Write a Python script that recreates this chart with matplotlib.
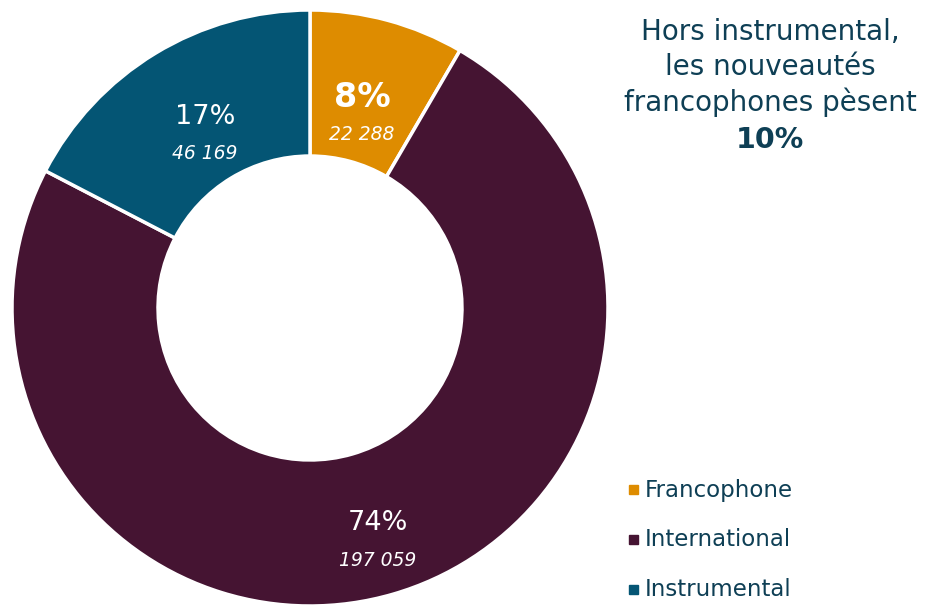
import numpy as np
import matplotlib.pyplot as plt

categories = ["Francophone", "International", "Instrumental"]
counts = [22288, 197059, 46169]
count_labels = ["22 288", "197 059", "46 169"]
colors = ["#DE8C00", "#451432", "#045574"]
text_color = "#0E3F55"

title_lines = ["Hors instrumental,", "les nouveautés", "francophones pèsent"]
title_value = "10%"

plt.rcParams['font.family'] = ['DejaVu Sans']

fig = plt.figure(figsize=(9.3, 6.05), dpi=100)

# donut axes: centre ~ (310, 308) px, radius ~298 px
ax = fig.add_axes([12 / 930, -1 / 605, 596 / 930, 596 / 605])
wedges, _ = ax.pie(counts, colors=colors, startangle=90, counterclock=False,
                   radius=1, wedgeprops=dict(width=0.49, edgecolor="white", linewidth=2.5))
ax.set_xlim(-1, 1)
ax.set_ylim(-1, 1)
ax.set_aspect("equal")
ax.axis("off")

total = sum(counts)
label_r = [0.67, 0.815, 0.68]
for i, w in enumerate(wedges):
    mid = np.deg2rad((w.theta1 + w.theta2) / 2)
    x = label_r[i] * np.cos(mid)
    y = label_r[i] * np.sin(mid)
    pct = "%d%%" % round(100 * counts[i] / total)
    bold = i == 0
    ax.text(x, y + 0.06, pct, ha="center", va="center", color="white",
            fontsize=24 if bold else 19.5, fontweight="bold" if bold else "normal")
    ax.text(x, y - 0.063, count_labels[i], ha="center", va="center", color="white",
            fontsize=13.5, style="italic")

# title block on the right
tx = 770 / 930
ys = [32, 67, 102]
for line, y in zip(title_lines, ys):
    fig.text(tx, 1 - y / 605, line, ha="center", va="center", color=text_color, fontsize=20)
fig.text(tx, 1 - 140 / 605, title_value, ha="center", va="center", color=text_color,
         fontsize=20.5, fontweight="bold")

# legend
leg_y = [490, 540, 590]
for cat, col, y in zip(categories, colors, leg_y):
    fig.patches.append(plt.Rectangle((629 / 930, 1 - (y + 4) / 605), 9 / 930, 9 / 605,
                                     transform=fig.transFigure, color=col))
    fig.text(645 / 930, 1 - y / 605, cat, ha="left", va="center", color=text_color, fontsize=16.5)

fig.savefig("out.png", dpi=100, facecolor="white")
